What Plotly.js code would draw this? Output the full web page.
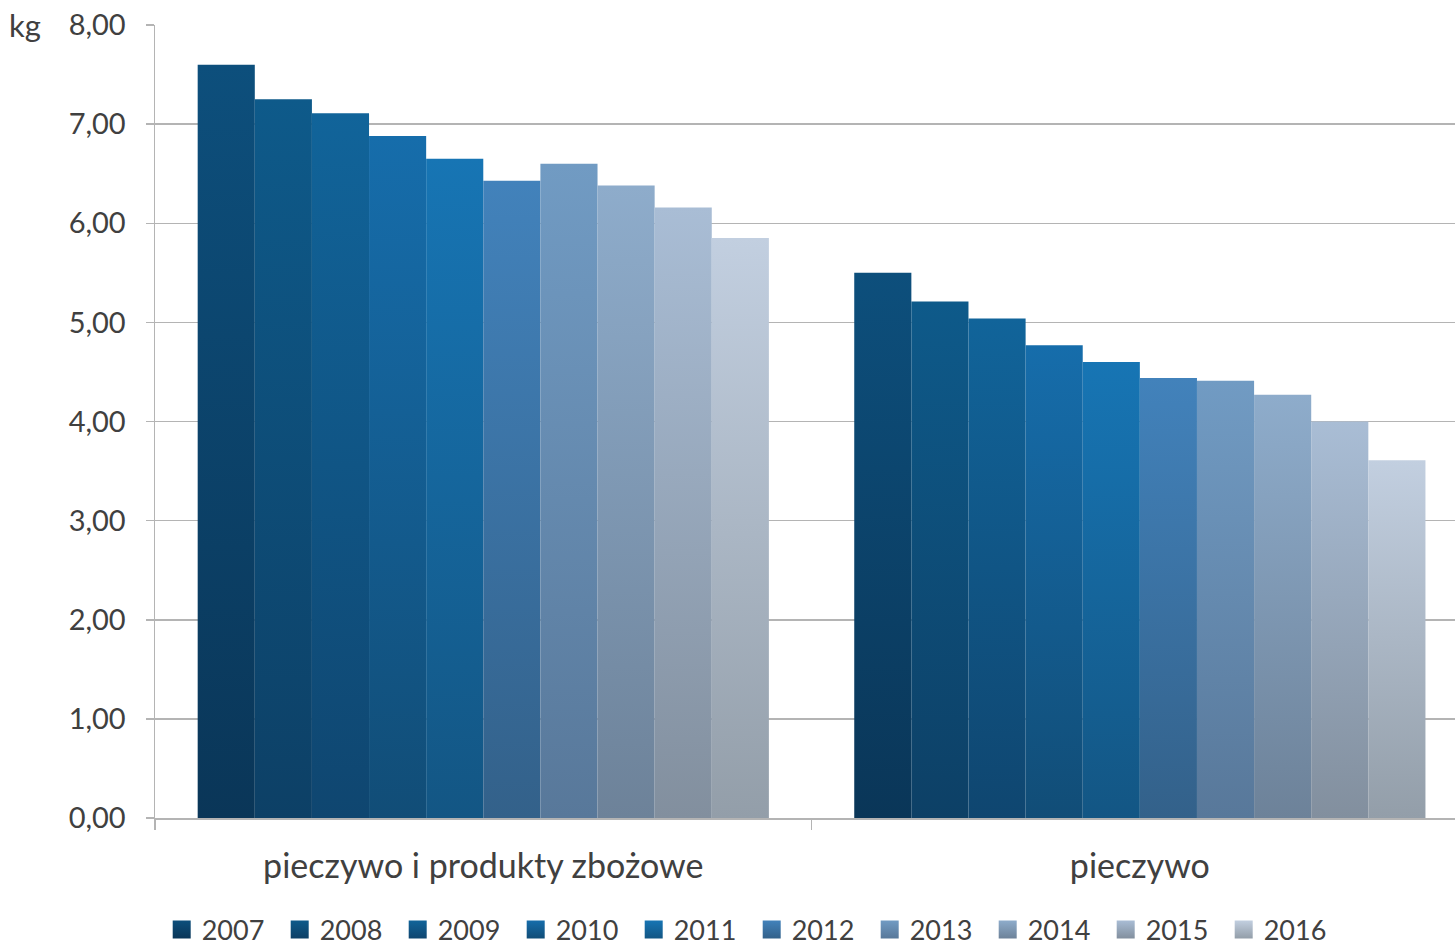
<!DOCTYPE html>
<html>
<head>
<meta charset="utf-8">
<script src="https://cdn.plot.ly/plotly-3.0.1.min.js"></script>
<style>
  html, body { margin: 0; padding: 0; background: #fff; }
  #chart { width: 1455px; height: 945px; }
</style>
</head>
<body>
<div id="chart"></div>
<script>
'use strict';

const categories = ['pieczywo i produkty zbożowe', 'pieczywo'];
const years = ['2007', '2008', '2009', '2010', '2011', '2012', '2013', '2014', '2015', '2016'];
const cereals = [7.60, 7.25, 7.11, 6.88, 6.65, 6.43, 6.60, 6.38, 6.16, 5.85];
const bread = [5.50, 5.21, 5.04, 4.77, 4.60, 4.44, 4.41, 4.27, 4.00, 3.61];

// light at the top, dark at the bottom of each bar
const topColors = ['#0d4f7c', '#0e5a8a', '#11649a', '#166dab', '#1775b4', '#4282bb', '#719bc3', '#8eaccb', '#a9bdd5', '#c2cfe0'];
const bottomColors = ['#0a3658', '#0d4066', '#0f4670', '#114d77', '#135684', '#33618a', '#58789a', '#6d8299', '#828f9e', '#939ea9'];

const textColor = '#404040';
const gridColor = '#b4b4b4';
const font = 'Lato, "Open Sans", sans-serif';

const traces = years.map((year, i) => ({
  type: 'bar',
  name: year,
  x: categories,
  y: [cereals[i], bread[i]],
  marker: { color: topColors[i], line: { width: 0 } },
  hoverinfo: 'none'
}));

const layout = {
  width: 1455,
  height: 945,
  margin: { l: 155, r: 0, t: 25, b: 127 },
  paper_bgcolor: '#fff',
  plot_bgcolor: '#fff',
  separators: ', ',
  font: { family: font, color: textColor, size: 26 },
  barmode: 'group',
  bargap: 0.13,
  bargroupgap: 0,
  showlegend: true,
  legend: {
    orientation: 'h',
    x: 0.459,
    xanchor: 'center',
    xref: 'paper',
    y: 0.016,
    yref: 'container',
    yanchor: 'middle',
    font: { size: 27, color: textColor },
    itemwidth: 30,
    entrywidth: 73,
    entrywidthmode: 'pixels',
    traceorder: 'normal'
  },
  xaxis: {
    type: 'category',
    range: [-0.5, 1.48],
    showgrid: false,
    showline: true,
    linecolor: gridColor,
    linewidth: 1.5,
    ticks: 'outside',
    tickson: 'boundaries',
    ticklen: 10,
    tickcolor: gridColor,
    tickwidth: 1.5,
    ticklabelstandoff: 18,
    tickfont: { size: 34, color: textColor },
    fixedrange: true
  },
  yaxis: {
    range: [0, 8],
    dtick: 1,
    tickformat: '.2f',
    showgrid: true,
    gridcolor: gridColor,
    gridwidth: 1.5,
    zeroline: false,
    showline: true,
    linecolor: gridColor,
    linewidth: 1.5,
    ticks: 'outside',
    ticklen: 8,
    tickcolor: gridColor,
    tickwidth: 1.5,
    ticklabelstandoff: 14,
    tickfont: { size: 29, color: textColor },
    fixedrange: true
  },
  annotations: [{
    text: 'kg',
    xref: 'paper',
    yref: 'y',
    x: -0.1,
    y: 8,
    xanchor: 'center',
    yanchor: 'middle',
    showarrow: false,
    font: { size: 31, color: textColor }
  }]
};

function addGradients(gd) {
  const defs = gd.querySelector('.main-svg defs');
  const ns = 'http://www.w3.org/2000/svg';
  years.forEach((year, i) => {
    const id = 'bargrad-' + i;
    if (!document.getElementById(id)) {
      const grad = document.createElementNS(ns, 'linearGradient');
      grad.setAttribute('id', id);
      grad.setAttribute('x1', '0');
      grad.setAttribute('y1', '0');
      grad.setAttribute('x2', '0');
      grad.setAttribute('y2', '1');
      [[0, topColors[i]], [1, bottomColors[i]]].forEach(([off, col]) => {
        const stop = document.createElementNS(ns, 'stop');
        stop.setAttribute('offset', off);
        stop.setAttribute('stop-color', col);
        grad.appendChild(stop);
      });
      defs.appendChild(grad);
    }
  });
  gd.querySelectorAll('.barlayer .trace').forEach((tr, i) => {
    tr.querySelectorAll('path').forEach(p => { p.style.fill = 'url(#bargrad-' + i + ')'; });
  });
  // bigger legend swatches: keep plotly's own translate, then scale
  gd.querySelectorAll('.legend .traces').forEach((tr, i) => {
    tr.querySelectorAll('.legendpoints path').forEach(p => {
      p.style.fill = 'url(#bargrad-' + i + ')';
      const t = p.getAttribute('transform') || '';
      p.setAttribute('transform', t + ' scale(1.5)');
    });
  });
}

Plotly.newPlot('chart', traces, layout, { displayModeBar: false, staticPlot: true })
  .then(addGradients);
</script>
</body>
</html>
